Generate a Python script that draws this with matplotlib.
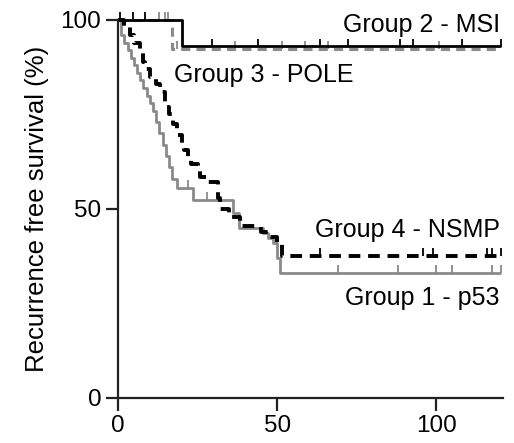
import numpy as np
import matplotlib.pyplot as plt

plt.rcParams['font.family'] = ['Liberation Sans', 'DejaVu Sans']

# Kaplan-Meier step data (months, % recurrence free)
p53_t = [0, 1, 2, 3, 4, 5, 6, 7, 8, 9, 10, 11, 12, 13, 14, 15, 16, 17, 18.5,
         23.5, 36, 38, 45.6, 47.2, 48.7, 50, 51]
p53_s = [100, 96, 94, 92, 90, 88, 86, 84, 82, 80, 78, 76, 73, 70, 67, 64, 61,
         58, 55.5, 52.5, 49, 45, 43.6, 42.3, 41, 37, 33]
p53_cens = [22, 28, 69, 88, 100, 105, 117.5, 120.5]

nsmp_t = [0, 2, 3.8, 5, 6.9, 8, 8.5, 10, 12, 13.2, 14.8, 16, 17.3, 18.5, 20,
          20.6, 22, 23, 25, 25.8, 28.3, 31.4, 32, 35, 38.4, 45, 47, 50, 51.5]
nsmp_s = [100, 98, 96, 94, 92, 89, 87, 85, 83, 81, 77, 75, 72.5, 69.5, 67,
          65.5, 63.5, 62, 60, 58.5, 57, 53, 50, 48, 45.5, 44, 42.5, 41, 37.5]
nsmp_cens = [63.5, 96, 99, 116, 117.6, 120.5]

msi_t = [0, 20]
msi_s = [100, 93]
msi_cens = [0.6, 4.7, 8.5, 29.5, 44, 63.5, 72.3, 88.7, 92.8, 108, 120.5]

pole_t = [0, 17]
pole_s = [100, 92.3]
pole_cens = [13, 14.8, 15.7, 18.5, 36.8, 51.5, 58.8, 66, 101]

x_end = 120.5
grey = '#8a8a8a'


def km(ax, t, s, cens, color, ls, lw, dashes=None):
    tt = list(t) + [x_end]
    ss = list(s) + [s[-1]]
    line, = ax.step(tt, ss, where='post', color=color, lw=lw, ls=ls,
                    clip_on=False, solid_capstyle='butt')
    if dashes is not None:
        line.set_dashes(dashes)
    cs = [s[np.searchsorted(t, c, side='right') - 1] for c in cens]
    ax.plot(cens, np.array(cs) + 1.0, ls='none', marker='|', ms=6, mew=1.3,
            color=color, clip_on=False)


fig = plt.figure(figsize=(5.14, 4.43), dpi=100)
ax = fig.add_axes([0.2296, 0.1016, 0.9786 - 0.2296, 0.955 - 0.1016])

km(ax, pole_t, pole_s, pole_cens, grey, '--', 2.2, (3, 2))
km(ax, msi_t, msi_s, msi_cens, 'black', '-', 2.0)
km(ax, p53_t, p53_s, p53_cens, grey, '-', 2.0)
km(ax, nsmp_t, nsmp_s, nsmp_cens, 'black', '--', 2.8, (3.0, 2.0))

ax.set_xlim(0, 121)
ax.set_ylim(0, 100)
ax.set_xticks([0, 50, 100])
ax.set_yticks([0, 50, 100])
for side in ['top', 'right']:
    ax.spines[side].set_visible(False)
for side in ['left', 'bottom']:
    ax.spines[side].set_linewidth(1.6)
    ax.spines[side].set_color('#222222')
ax.tick_params(axis='both', length=9, width=1.6, labelsize=17.5,
               color='#222222', pad=3)
ax.set_ylabel('Recurrence free survival (%)', fontsize=18.5, labelpad=8)

ax.text(120, 98.7, 'Group 2 - MSI', ha='right', va='center', fontsize=18)
ax.text(17.5, 85.4, 'Group 3 - POLE', ha='left', va='center', fontsize=18)
ax.text(120, 44.4, 'Group 4 - NSMP', ha='right', va='center', fontsize=18)
ax.text(120, 26.5, 'Group 1 - p53', ha='right', va='center', fontsize=18)

fig.savefig('out.png', dpi=100)
